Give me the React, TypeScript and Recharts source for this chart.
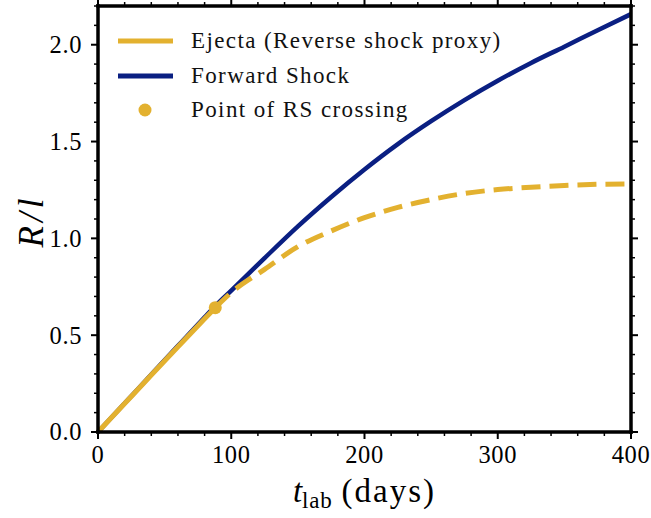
import React from 'react';
import { ComposedChart, Line, Scatter, XAxis, YAxis } from 'recharts';

// lab-frame time (days)
const tDays = [0, 20, 40, 60, 80, 88, 100, 125, 150, 175, 200, 225, 250, 275, 300, 325, 350, 375, 400];
// forward shock radius R/l
const forwardShock = [0, 0.148, 0.297, 0.445, 0.592, 0.65, 0.73, 0.898, 1.062, 1.214, 1.356, 1.487, 1.605, 1.714, 1.814, 1.906, 1.99, 2.075, 2.158];
// ejecta before RS crossing (solid) and after (dashed)
const ejectaSolid = [0, 0.147, 0.294, 0.44, 0.585, 0.642, null, null, null, null, null, null, null, null, null, null, null, null, null];
const ejectaDashed = [null, null, null, null, null, 0.642, 0.72, 0.84, 0.957, 1.038, 1.107, 1.16, 1.2, 1.232, 1.252, 1.264, 1.273, 1.279, 1.281];

const crossT = [88];
const crossR = [0.642];

const xTicks = [0, 20, 40, 60, 80, 100, 120, 140, 160, 180, 200, 220, 240, 260, 280, 300, 320, 340, 360, 380, 400];
const yTicks = [0, 0.1, 0.2, 0.3, 0.4, 0.5, 0.6, 0.7, 0.8, 0.9, 1.0, 1.1, 1.2, 1.3, 1.4, 1.5, 1.6, 1.7, 1.8, 1.9, 2.0, 2.1, 2.2];

const GOLD = '#e3b12f';
const NAVY = '#0a1f82';
const FONT = "'Liberation Serif', 'DejaVu Serif', serif";

const data = tDays.map((t, i) => ({
  t,
  forward: forwardShock[i],
  ejecta: ejectaSolid[i],
  ejectaRS: ejectaDashed[i],
}));
const crossing = crossT.map((t, i) => ({ t, cross: crossR[i] }));

const isMajorX = (v: number) => v % 100 === 0;
const isMajorY = (v: number) => Math.abs(v * 2 - Math.round(v * 2)) < 1e-6;

const BottomTick = (props: any) => {
  const { x, y, payload } = props;
  const major = isMajorX(payload.value);
  return (
    <g>
      <line x1={x} x2={x} y1={y} y2={y + (major ? 7 : 4)} stroke="#000" strokeWidth={major ? 2 : 1.5} />
      {major && (
        <text x={x} y={y + 31} textAnchor="middle" fontFamily={FONT} fontSize={24.5} letterSpacing={0.6} fill="#000">
          {payload.value}
        </text>
      )}
    </g>
  );
};

const TopTick = (props: any) => {
  const { x, y, payload } = props;
  const major = isMajorX(payload.value);
  return <line x1={x} x2={x} y1={y} y2={y - (major ? 7 : 4)} stroke="#000" strokeWidth={major ? 2 : 1.5} />;
};

const LeftTick = (props: any) => {
  const { x, y, payload } = props;
  const major = isMajorY(payload.value);
  return (
    <g>
      <line x1={x} x2={x - (major ? 7 : 4)} y1={y} y2={y} stroke="#000" strokeWidth={major ? 2 : 1.5} />
      {major && (
        <text x={x - 16} y={y} dy="0.34em" textAnchor="end" fontFamily={FONT} fontSize={24.5} letterSpacing={0.6} fill="#000">
          {payload.value.toFixed(1)}
        </text>
      )}
    </g>
  );
};

const RightTick = (props: any) => {
  const { x, y, payload } = props;
  const major = isMajorY(payload.value);
  return <line x1={x} x2={x + (major ? 7 : 4)} y1={y} y2={y} stroke="#000" strokeWidth={major ? 2 : 1.5} />;
};

const legendItems = [
  { name: 'Ejecta (Reverse shock proxy)', color: GOLD, kind: 'line' },
  { name: 'Forward Shock', color: NAVY, kind: 'line' },
  { name: 'Point of RS crossing', color: GOLD, kind: 'dot' },
];

const LegendBox = () => (
  <div style={{ position: 'absolute', left: 118, top: 24, fontFamily: FONT, fontSize: 23, letterSpacing: 1.4, color: '#111' }}>
    {legendItems.map((it) => (
      <div key={it.name} style={{ display: 'flex', alignItems: 'center', height: 34.5, whiteSpace: 'nowrap' }}>
        <svg width={55} height={14} style={{ marginRight: 18 }}>
          {it.kind === 'line' ? (
            <line x1={0} x2={55} y1={7} y2={7} stroke={it.color} strokeWidth={5} />
          ) : (
            <circle cx={27} cy={7} r={6.5} fill={it.color} />
          )}
        </svg>
        <span>{it.name}</span>
      </div>
    ))}
  </div>
);

const axisLine = { stroke: '#000', strokeWidth: 3.5, strokeLinecap: 'square' as const };

export default function App() {
  return (
    <div style={{ position: 'absolute', left: 0, top: 0, width: 651, height: 518, background: '#fff' }}>
      <ComposedChart width={651} height={518} data={data} margin={{ top: 0, right: 0, left: 0, bottom: 0 }}>
        <XAxis
          xAxisId="b"
          dataKey="t"
          type="number"
          domain={[0, 400]}
          ticks={xTicks}
          interval={0}
          height={86}
          tickSize={0}
          tickMargin={0}
          tickLine={false}
          axisLine={axisLine}
          tick={<BottomTick />}
          label={{
            content: (p: any) => {
              const vb = p.viewBox;
              return (
                <text x={vb.x + vb.width / 2} y={vb.y + 70} textAnchor="middle" fontFamily={FONT} fontSize={33} fill="#000">
                  <tspan fontStyle="italic">t</tspan>
                  <tspan fontSize={23} dy={6} letterSpacing={0.8}>lab</tspan>
                  <tspan dy={-6} dx={9} letterSpacing={2}>(days)</tspan>
                </text>
              );
            },
          }}
        />
        <XAxis
          xAxisId="t"
          orientation="top"
          dataKey="t"
          type="number"
          domain={[0, 400]}
          ticks={xTicks}
          interval={0}
          height={6}
          tickSize={0}
          tickMargin={0}
          tickLine={false}
          axisLine={axisLine}
          tick={<TopTick />}
        />
        <YAxis
          yAxisId="l"
          type="number"
          domain={[0, 2.2]}
          ticks={yTicks}
          interval={0}
          width={98}
          tickSize={0}
          tickMargin={0}
          tickLine={false}
          axisLine={axisLine}
          tick={<LeftTick />}
          allowDataOverflow
          label={{
            content: (p: any) => {
              const vb = p.viewBox;
              const cx = vb.x + 31;
              const cy = vb.y + vb.height / 2 + 2;
              return (
                <text
                  x={cx}
                  y={cy}
                  transform={`rotate(-90, ${cx}, ${cy})`}
                  textAnchor="middle"
                  dominantBaseline="central"
                  fontFamily={FONT}
                  fontSize={35}
                  fontStyle="italic"
                  letterSpacing={4}
                  fill="#000"
                >
                  R/l
                </text>
              );
            },
          }}
        />
        <YAxis
          yAxisId="r"
          orientation="right"
          type="number"
          domain={[0, 2.2]}
          ticks={yTicks}
          interval={0}
          width={20}
          tickSize={0}
          tickMargin={0}
          tickLine={false}
          axisLine={axisLine}
          tick={<RightTick />}
          allowDataOverflow
        />
        <Line
          xAxisId="t"
          yAxisId="r"
          dataKey="forward"
          stroke="none"
          dot={false}
          legendType="none"
          isAnimationActive={false}
        />
        <Line
          xAxisId="b"
          yAxisId="l"
          type="monotone"
          dataKey="forward"
          stroke={NAVY}
          strokeWidth={4.5}
          dot={false}
          isAnimationActive={false}
        />
        <Line
          xAxisId="b"
          yAxisId="l"
          type="monotone"
          dataKey="ejectaRS"
          stroke={GOLD}
          strokeWidth={5}
          strokeDasharray="19 9"
          dot={false}
          connectNulls={false}
          isAnimationActive={false}
        />
        <Line
          xAxisId="b"
          yAxisId="l"
          type="monotone"
          dataKey="ejecta"
          stroke={GOLD}
          strokeWidth={5}
          dot={false}
          connectNulls={false}
          isAnimationActive={false}
        />
        <Scatter
          xAxisId="b"
          yAxisId="l"
          data={crossing}
          dataKey="cross"
          fill={GOLD}
          shape={(p: any) => <circle cx={p.cx} cy={p.cy} r={6.5} fill={GOLD} />}
          isAnimationActive={false}
        />
      </ComposedChart>
      <LegendBox />
    </div>
  );
}
